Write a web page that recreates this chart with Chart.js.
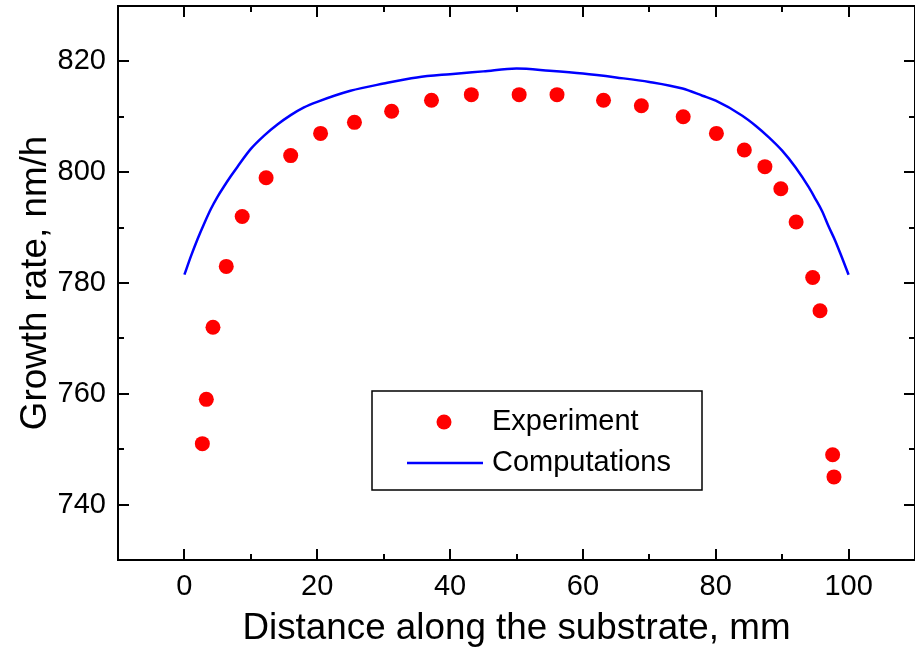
<!DOCTYPE html>
<html>
<head>
<meta charset="utf-8">
<script src="https://cdn.jsdelivr.net/npm/chart.js@4/dist/chart.umd.min.js"></script>
<style>
  html, body { margin: 0; padding: 0; background: #fff; overflow: hidden; }
  canvas { display: block; }
</style>
</head>
<body>
<canvas id="chart" width="915" height="651"></canvas>
<script>
// experiment points (distance mm, growth rate nm/h)
const expX = [2.7, 3.3, 4.3, 6.3, 8.7, 12.3, 16.0, 20.5, 25.6, 31.2, 37.2, 43.2, 50.4, 56.1,
              63.1, 68.8, 75.1, 80.1, 84.3, 87.4, 89.8, 92.1, 94.6, 95.7, 97.6, 97.8];
const expY = [751, 759, 772, 783, 792, 799, 803, 807, 809, 811, 813, 814, 814, 814,
              813, 812, 810, 807, 804, 801, 797, 791, 781, 775, 749, 745];

// computed curve
const compX = [0, 1, 2, 3, 4, 5, 6, 7, 8, 10, 12, 14, 16, 18, 20, 25, 30, 35, 40, 45, 50,
               55, 60, 65, 70, 75, 78, 80, 84, 86, 88, 90, 92, 94, 95, 96, 97, 98, 99, 100];
const compY = [781.5, 784.9, 788.0, 790.8, 793.4, 795.6, 797.5, 799.3, 801.0, 804.2, 806.6,
               808.6, 810.3, 811.7, 812.7, 814.7, 816.0, 817.1, 817.7, 818.2, 818.7,
               818.3, 817.8, 817.1, 816.3, 815.1, 813.8, 812.9, 810.2, 808.4, 806.3, 803.9,
               800.9, 797.3, 795.2, 793.0, 790.2, 787.6, 784.6, 781.5];

const xTicks = [0, 20, 40, 60, 80, 100];
const yTicks = [740, 760, 780, 800, 820];
const labels = ['Experiment', 'Computations'];

const FONT = '"Liberation Sans", Arial, sans-serif';

// box frame with inward ticks on all four sides
const framePlugin = {
  id: 'frame',
  afterDraw(chart) {
    const c = chart.ctx, a = chart.chartArea;
    const xs = chart.scales.x, ys = chart.scales.y;
    c.save();
    c.strokeStyle = '#000';
    c.lineWidth = 2;
    c.strokeRect(a.left, a.top, a.right - a.left, a.bottom - a.top);
    c.beginPath();
    for (let v = xs.min; v <= xs.max; v += 10) {
      const len = (v % 20 === 0) ? 11 : 6;
      const px = Math.round(xs.getPixelForValue(v));
      c.moveTo(px, a.bottom); c.lineTo(px, a.bottom - len);
      c.moveTo(px, a.top); c.lineTo(px, a.top + len);
    }
    for (let v = ys.min; v <= ys.max; v += 10) {
      const len = (v % 20 === 0) ? 11 : 6;
      const py = Math.round(ys.getPixelForValue(v));
      c.moveTo(a.left, py); c.lineTo(a.left + len, py);
      c.moveTo(a.right, py); c.lineTo(a.right - len, py);
    }
    c.stroke();

    // legend box
    const ds = chart.data.datasets;
    c.lineWidth = 1.5;
    c.strokeRect(372, 391, 330, 99);
    c.fillStyle = ds[0].backgroundColor;
    c.beginPath();
    c.arc(444, 422, 7.5, 0, Math.PI * 2);
    c.fill();
    c.strokeStyle = ds[1].borderColor;
    c.lineWidth = 2.5;
    c.beginPath();
    c.moveTo(407, 463); c.lineTo(483, 463);
    c.stroke();
    c.fillStyle = '#000';
    c.font = '29px ' + FONT;
    c.textBaseline = 'middle';
    c.fillText(ds[0].label, 492, 422);
    c.fillText(ds[1].label, 492, 463);
    c.restore();
  }
};

const ctx = document.getElementById('chart');

new Chart(ctx, {
  type: 'scatter',
  data: {
    datasets: [{
      label: labels[0],
      data: expX.map((x, i) => ({ x: x, y: expY[i] })),
      backgroundColor: '#ff0000',
      borderWidth: 0,
      pointRadius: 7.5,
      pointHoverRadius: 7.5
    }, {
      label: labels[1],
      data: compX.map((x, i) => ({ x: x, y: compY[i] })),
      showLine: true,
      borderColor: '#0000ff',
      borderWidth: 2.5,
      pointRadius: 0,
      cubicInterpolationMode: 'monotone',
      fill: false
    }]
  },
  options: {
    responsive: false,
    devicePixelRatio: 1,
    animation: false,
    layout: { autoPadding: false, padding: { top: 6, right: -2, left: 0, bottom: 0 } },
    plugins: {
      legend: { display: false },
      tooltip: { enabled: false }
    },
    scales: {
      x: {
        type: 'linear',
        min: -10, max: 110,
        grid: { display: false, drawTicks: false },
        border: { display: false },
        afterBuildTicks: (s) => { s.ticks = xTicks.map(v => ({ value: v })); },
        afterFit: (s) => { s.height = 91; s.paddingLeft = 0; s.paddingRight = 0; },
        ticks: { color: '#000', padding: 10, font: { family: FONT, size: 29 } },
        title: {
          display: true,
          text: 'Distance along the substrate, mm',
          color: '#000',
          padding: { top: 0, bottom: 0 },
          font: { family: FONT, size: 36.8 }
        }
      },
      y: {
        min: 730, max: 830,
        grid: { display: false, drawTicks: false },
        border: { display: false },
        afterBuildTicks: (s) => { s.ticks = yTicks.map(v => ({ value: v })); },
        afterFit: (s) => { s.width = 118; s.paddingTop = 0; s.paddingBottom = 0; },
        ticks: { color: '#000', padding: 12, font: { family: FONT, size: 29 } },
        title: {
          display: true,
          text: 'Growth rate, nm/h',
          color: '#000',
          padding: { top: 14, bottom: 0 },
          font: { family: FONT, size: 36.8 }
        }
      }
    }
  },
  plugins: [framePlugin]
});
</script>
</body>
</html>
